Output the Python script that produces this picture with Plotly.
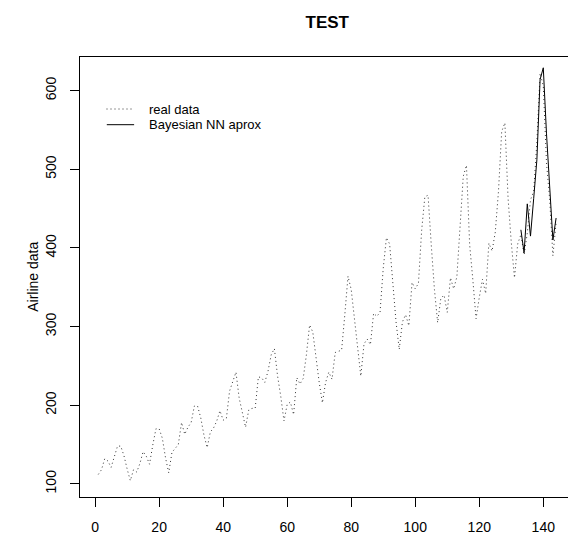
import plotly.graph_objects as go

# AirPassengers monthly data (index 1..144)
real_data = [
    112, 118, 132, 129, 121, 135, 148, 148, 136, 119, 104, 118,
    115, 126, 141, 135, 125, 149, 170, 170, 158, 133, 114, 140,
    145, 150, 178, 163, 172, 178, 199, 199, 184, 162, 146, 166,
    171, 180, 193, 181, 183, 218, 230, 242, 209, 191, 172, 194,
    196, 196, 236, 235, 229, 243, 264, 272, 237, 211, 180, 201,
    204, 188, 235, 227, 234, 264, 302, 293, 259, 229, 203, 229,
    242, 233, 267, 269, 270, 315, 364, 347, 312, 274, 237, 278,
    284, 277, 317, 313, 318, 374, 413, 405, 355, 306, 271, 306,
    315, 301, 356, 348, 355, 422, 465, 467, 404, 347, 305, 336,
    340, 318, 362, 348, 363, 435, 491, 505, 404, 359, 310, 337,
    360, 342, 406, 396, 420, 472, 548, 559, 463, 407, 362, 405,
    417, 391, 419, 461, 472, 535, 622, 606, 508, 461, 390, 432,
]
real_index = list(range(1, len(real_data) + 1))

nn_index = list(range(133, 145))
nn_values = [423, 394, 456, 415, 463, 512, 614, 629, 545, 475, 410, 438]

x_ticks = [0, 20, 40, 60, 80, 100, 120, 140]
y_ticks = [100, 200, 300, 400, 500, 600]
legend_labels = ["real data", "Bayesian NN aprox"]

W, H = 568, 539
L, R_, T, B = 80.2, 0, 57.3, 41.7
PW, PH = W - L - R_, H - T - B

def px_x(p):
    return (p - L) / PW

def px_y(p):
    return (H - B - p) / PH

DOT = "1px,3px"
font_family = "Liberation Sans, Arial, sans-serif"

fig = go.Figure()
fig.add_trace(go.Scatter(x=real_index, y=real_data, mode="lines", name=legend_labels[0],
                         line=dict(color="#333333", width=1, dash=DOT), showlegend=False))
fig.add_trace(go.Scatter(x=nn_index, y=nn_values, mode="lines", name=legend_labels[1],
                         line=dict(color="black", width=1), showlegend=False))

# manual legend (no box), like R's legend(bty="n")
shapes = [
    dict(type="line", xref="paper", yref="paper", x0=px_x(106.7), x1=px_x(133.3),
         y0=px_y(109.3), y1=px_y(109.3), line=dict(color="#333333", width=1, dash=DOT)),
    dict(type="line", xref="paper", yref="paper", x0=px_x(107), x1=px_x(134.3),
         y0=px_y(125), y1=px_y(125), line=dict(color="black", width=1)),
]
annotations = [
    dict(text=legend_labels[0], xref="paper", yref="paper", x=px_x(147.3), y=px_y(109.3),
         xanchor="left", yanchor="middle", showarrow=False,
         font=dict(size=13, family=font_family, color="black")),
    dict(text=legend_labels[1], xref="paper", yref="paper", x=px_x(147.3), y=px_y(125),
         xanchor="left", yanchor="middle", showarrow=False,
         font=dict(size=13, family=font_family, color="black")),
    dict(text="Airline data", textangle=-90, xref="paper", yref="paper",
         x=px_x(33), y=0.5, xanchor="center", yanchor="middle",
         showarrow=False, font=dict(size=14, family=font_family, color="black")),
]

fig.update_layout(
    width=W, height=H,
    margin=dict(l=L, r=R_, t=T, b=B, pad=0),
    paper_bgcolor="white", plot_bgcolor="white",
    font=dict(family=font_family, size=14, color="black"),
    title=dict(text="<b>TEST</b>", x=327.3 / W, xanchor="center", xref="container",
               y=1 - 21.7 / H, yanchor="middle", yref="container",
               font=dict(size=17, family=font_family, color="black")),
    showlegend=False,
    xaxis=dict(range=[-4.72, -4.72 + PW / 3.2],
               tickvals=x_ticks, ticks="outside", ticklen=9, tickwidth=1, tickcolor="black",
               showline=True, linecolor="black", linewidth=1, mirror=True,
               showgrid=False, zeroline=False, ticklabelstandoff=8,
               tickfont=dict(size=14)),
    yaxis=dict(range=[83.28, 642.72], tickvals=y_ticks, ticks="outside", ticklen=9,
               tickwidth=1, tickcolor="black", showline=True, linecolor="black",
               linewidth=1, mirror=False, showgrid=False, zeroline=False,
               tickangle=-90, ticklabelstandoff=8, tickfont=dict(size=14)),
    shapes=shapes,
    annotations=annotations,
)

fig.write_html("out.html")
